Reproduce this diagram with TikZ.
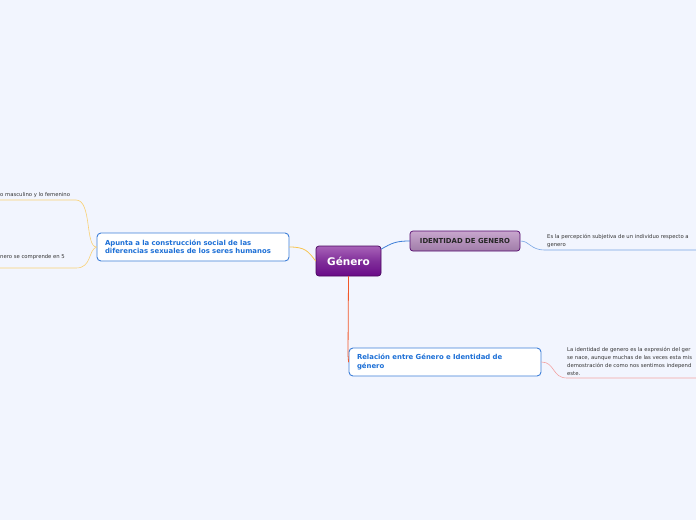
\documentclass[tikz,border=0pt]{standalone}
\usepackage{fontspec}
\setmainfont{DejaVu Sans}
\usetikzlibrary{positioning}
\definecolor{fondo}{HTML}{F2F5FE}
\definecolor{morado}{HTML}{6A0A88}
\definecolor{moradoclaro}{HTML}{A862B8}
\definecolor{malva}{HTML}{C8A6CE}
\definecolor{malvaosc}{HTML}{A07DA8}
\definecolor{azulramo}{HTML}{3E7FD8}
\definecolor{azultexto}{HTML}{1C6FD6}
\definecolor{amarillo}{HTML}{F7C552}
\definecolor{naranja}{HTML}{F2582A}
\definecolor{rosa}{HTML}{F2A3A3}
\definecolor{gristexto}{HTML}{333333}
\begin{document}
\begin{tikzpicture}[x=1pt, y=-1pt, line cap=round,
  raiz/.style={draw=morado!70!black, line width=0.7pt, rounded corners=3pt, top color=moradoclaro, bottom color=morado, middle color=morado!85!white, minimum width=65pt, minimum height=30pt, text=white, font=\bfseries\fontsize{10.5}{12}\selectfont},
  tema/.style={draw=morado!80!black, line width=0.7pt, rounded corners=3pt, top color=malva, bottom color=malvaosc, minimum width=110pt, minimum height=20pt, text=black!85, font=\bfseries\fontsize{6.9}{8}\selectfont},
  caja/.style={draw=azulramo, line width=0.9pt, fill=white, rounded corners=4pt, minimum width=192pt, minimum height=28pt, text width=176pt, align=left, text=azultexto, font=\bfseries\fontsize{6.9}{8.5}\selectfont},
  nota/.style={inner sep=0pt, align=left, text=gristexto, font=\fontsize{5.3}{8.2}\selectfont}]
\fill[fondo] (0,0) rectangle (696,520);
\useasboundingbox (0,0) rectangle (696,520);
% Nodo central
\node[raiz] (genero) at (348.5,261) {Género};
% Ramas principales
\node[tema] (identidad) at (465,241) {IDENTIDAD DE GENERO};
\node[caja] (apunta) at (193,247) {Apunta a la construcción social de las\\diferencias sexuales de los seres humanos};
\node[caja] (relacion) at (445,362) {Relación entre Género e Identidad de\\género};
% Notas
\node[nota, anchor=south west] (percepcion) at (547,248) {Es la percepción subjetiva de un individuo respecto a\\genero};
\node[nota, anchor=south west] (expresion) at (567,376) {La identidad de genero es la expresión del ger\\se nace, aunque muchas de las veces esta mis\\demostración de como nos sentimos independ\\este.};
\node[nota, anchor=south west] (femenino) at (0,197.5) {o masculino y lo femenino};
\node[nota, anchor=south west] (comprende) at (0,259.5) {nero se comprende en 5};
% Extremos libres de los subrayados
\coordinate (finpercepcion) at (696,250);
\coordinate (finexpresion) at (696,378);
\coordinate (finfemenino) at (0,200);
\coordinate (fincomprende) at (0,268);
% Conectores
\draw[azulramo, thick] (genero.20) .. controls (392,243) and (396,241) .. (identidad.west);
\draw[amarillo, thick] (apunta.east) .. controls (305,247) and (308,251) .. (genero.west);
\draw[naranja, thick] (genero.south) -- (348,355) .. controls (348,359) .. (relacion.west);
\draw[azulramo!70, semithick] (identidad.east) .. controls (530,241) and (530,250) .. (545,250) -- (finpercepcion);
\draw[rosa, semithick] (relacion.east) .. controls (555,362) and (552,378) .. (567,378) -- (finexpresion);
\draw[amarillo!80, semithick] (apunta.west) .. controls (85,247) and (92,200) .. (76,200) -- (finfemenino);
\draw[amarillo!80, semithick] (apunta.west) .. controls (88,250) and (92,268) .. (76,268) -- (fincomprende);
\end{tikzpicture}
\end{document}
